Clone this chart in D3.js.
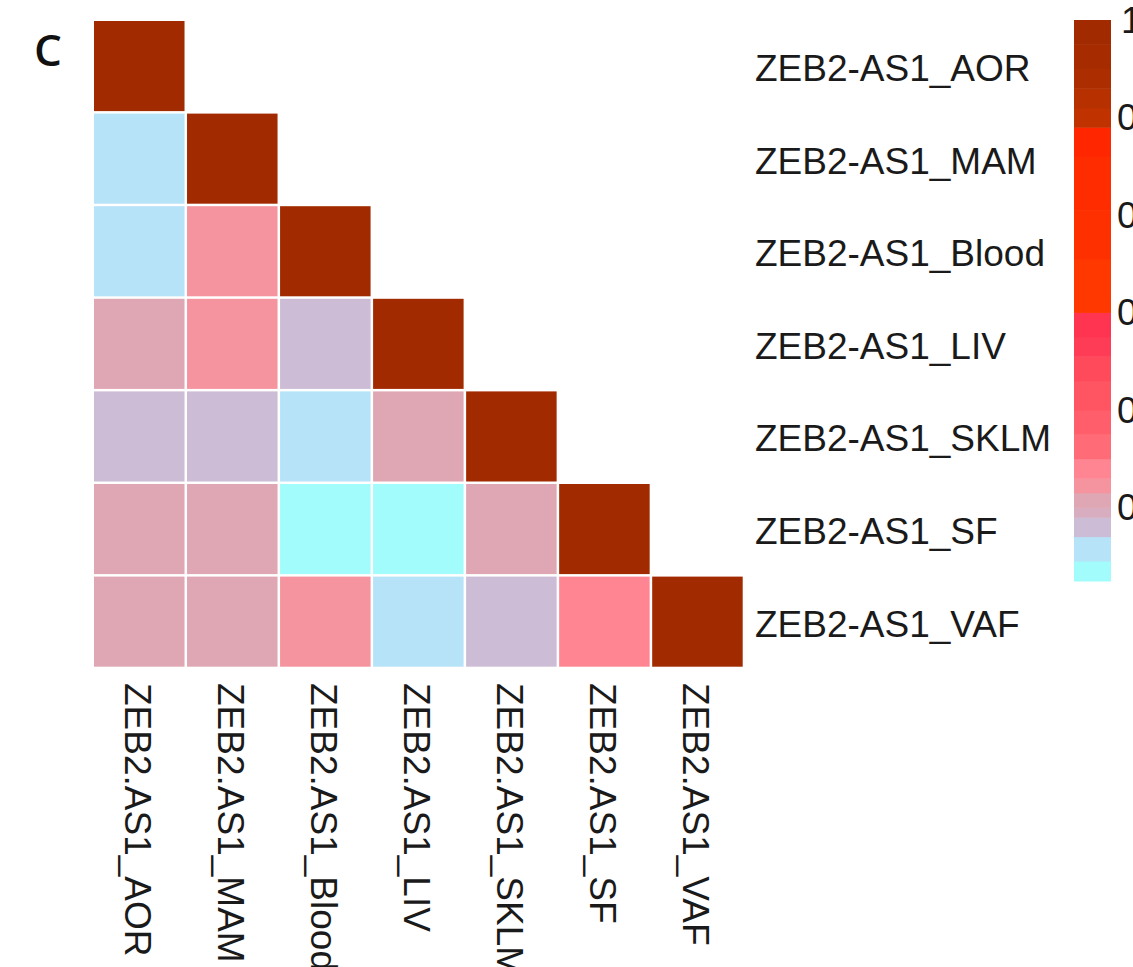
<!DOCTYPE html>
<html>
<head>
<meta charset="utf-8">
<script src="https://cdn.jsdelivr.net/npm/d3@7"></script>
<style>
  html, body { margin: 0; padding: 0; background: #ffffff; }
  svg { display: block; }
</style>
</head>
<body>
<svg id="chart" width="1133" height="967"></svg>
<script>
// ---------- data ----------
const panelLabel = "C";
const rowLabels = ["ZEB2-AS1_AOR", "ZEB2-AS1_MAM", "ZEB2-AS1_Blood", "ZEB2-AS1_LIV", "ZEB2-AS1_SKLM", "ZEB2-AS1_SF", "ZEB2-AS1_VAF"];
const colLabels = ["ZEB2.AS1_AOR", "ZEB2.AS1_MAM", "ZEB2.AS1_Blood", "ZEB2.AS1_LIV", "ZEB2.AS1_SKLM", "ZEB2.AS1_SF", "ZEB2.AS1_VAF"];
// lower-triangle correlation values, row by row (including diagonal)
const rowAOR   = [1.00];
const rowMAM   = [-0.08, 1.00];
const rowBlood = [-0.08, 0.05, 1.00];
const rowLIV   = [0.02, 0.05, -0.04, 1.00];
const rowSKLM  = [-0.04, -0.04, -0.08, 0.02, 1.00];
const rowSF    = [0.02, 0.02, -0.13, -0.13, 0.02, 1.00];
const rowVAF   = [0.02, 0.02, 0.05, -0.08, -0.04, 0.08, 1.00];
const matrixRows = [rowAOR, rowMAM, rowBlood, rowLIV, rowSKLM, rowSF, rowVAF];

// colour legend
const legendTicks = [1, 0.8, 0.6, 0.4, 0.2, 0];
const legendTickLabels = ["1", "0.8", "0.6", "0.4", "0.2", "0"];
const legendMin = -0.151, legendMax = 1.0;
const colorBreaks = [-0.11, -0.06, -0.02, 0.0, 0.03, 0.06, 0.10, 0.15, 0.20, 0.26, 0.31, 0.35, 0.40, 0.51, 0.61, 0.72, 0.78, 0.82, 0.86, 0.90, 0.95];
const colorSteps = ["#a2fcfc", "#b6e3f8", "#cdbcd5", "#d8adbf", "#dfa7b3", "#f5949e", "#ff8592", "#ff6c78", "#ff5e6a", "#ff5462", "#ff4a5c", "#ff3c56", "#ff3450", "#ff3800", "#ff3000", "#ff2c00", "#ff2600", "#c03200", "#b63000", "#ac2e00", "#a62c00", "#a22a00"];

// ---------- drawing ----------
const svg = d3.select("#chart");
const font = "'Liberation Sans', Arial, Helvetica, sans-serif";
const labelSize = 37;

const color = d3.scaleThreshold().domain(colorBreaks).range(colorSteps);

const x = d3.scaleBand().domain(colLabels).range([94, 742.7]).paddingInner(0.027).paddingOuter(0);
const y = d3.scaleBand().domain(rowLabels).range([21, 666.7]).paddingInner(0.027).paddingOuter(0);

const cells = [];
matrixRows.forEach((vals, i) => {
  vals.forEach((v, j) => cells.push({ row: rowLabels[i], col: colLabels[j], v }));
});

svg.append("g").selectAll("rect").data(cells).join("rect")
  .attr("x", d => x(d.col))
  .attr("y", d => y(d.row))
  .attr("width", x.bandwidth())
  .attr("height", y.bandwidth())
  .attr("fill", d => color(d.v));

// row labels (right side)
svg.append("g").selectAll("text").data(rowLabels).join("text")
  .attr("x", 755)
  .attr("y", d => y(d) + y.bandwidth() / 2 + 15)
  .attr("font-family", font)
  .attr("font-size", labelSize)
  .attr("fill", "#1a1a1a")
  .text(d => d);

// column labels (bottom, rotated)
svg.append("g").selectAll("text").data(colLabels).join("text")
  .attr("transform", d => `translate(${x(d) + x.bandwidth() / 2 - 14},683) rotate(90)`)
  .attr("font-family", font)
  .attr("font-size", labelSize)
  .attr("fill", "#1a1a1a")
  .text(d => d);

// panel label
svg.append("text")
  .attr("x", 34).attr("y", 66)
  .attr("font-family", "'Open Sans', 'Noto Sans', sans-serif")
  .attr("font-size", 44)
  .attr("font-weight", 600)
  .attr("fill", "#111")
  .text(panelLabel);

// legend colour bar
const ly = d3.scaleLinear().domain([legendMin, legendMax]).range([581, 20]);
const bandEdges = [legendMin, ...colorBreaks, legendMax];
const bands = colorSteps.map((c, i) => ({ lo: bandEdges[i], hi: bandEdges[i + 1], c }));
svg.append("g").selectAll("rect").data(bands).join("rect")
  .attr("x", 1074)
  .attr("width", 37)
  .attr("y", d => ly(d.hi))
  .attr("height", d => ly(d.lo) - ly(d.hi) + 0.5)
  .attr("fill", d => d.c);

svg.append("g").selectAll("text").data(legendTicks).join("text")
  .attr("x", d => d === 1 ? 1121 : 1117)
  .attr("y", d => ly(d) + 13)
  .attr("font-family", font)
  .attr("font-size", labelSize)
  .attr("fill", "#1a1a1a")
  .text((d, i) => legendTickLabels[i]);
</script>
</body>
</html>
